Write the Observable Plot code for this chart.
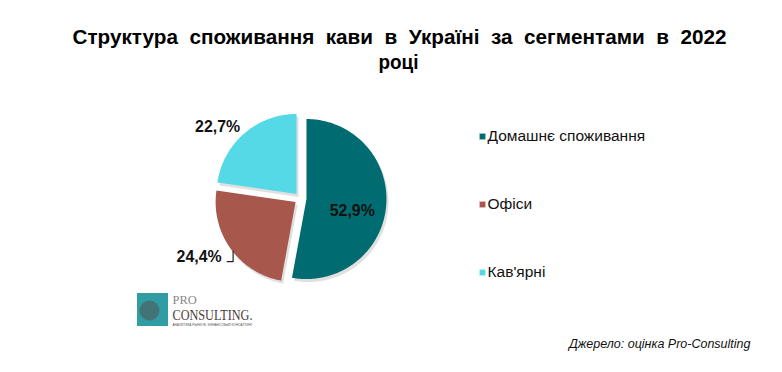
<!DOCTYPE html>
<html>
<head>
<meta charset="utf-8">
<script src="https://cdn.jsdelivr.net/npm/d3@7"></script>
<script src="https://cdn.jsdelivr.net/npm/@observablehq/plot@0.6"></script>
<style>
  html, body { margin: 0; padding: 0; background: #fff; }
</style>
</head>
<body>
<div id="chart"></div>
<script>
// ---- data ----
const categories = ["Домашнє споживання", "Офіси", "Кав'ярні"];
const shares = [52.9, 24.4, 22.7];
const shareLabels = ["52,9%", "24,4%", "22,7%"];
const colors = ["#006b70", "#a8574d", "#56d9e6"];
const titleLines = ["Структура  споживання  кави  в  Україні  за  сегментами  в  2022", "році"];
const sourceText = "Джерело: оцінка Pro-Consulting";

// ---- layout ----
const W = 782, H = 372;
const cx = 300, cy = 198, R = 80, explode = 6;
const sans = "'Liberation Sans', Arial, sans-serif";

// build slice polygons from the data with d3.pie (clockwise from 12 o'clock)
const arcs = d3.pie().sort(null).value(d => d)(shares);
const pts = [];
const centers = [];
arcs.forEach((a, i) => {
  const mid = (a.startAngle + a.endAngle) / 2;
  const vx = cx + explode * Math.sin(mid), vy = cy - explode * Math.cos(mid);
  centers.push({vx, vy, mid});
  pts.push({key: categories[i], x: vx, y: vy});
  const n = Math.max(8, Math.ceil((a.endAngle - a.startAngle) / 0.02));
  for (let k = 0; k <= n; k++) {
    const t = a.startAngle + (a.endAngle - a.startAngle) * k / n;
    pts.push({key: categories[i], x: vx + R * Math.sin(t), y: vy - R * Math.cos(t)});
  }
});

// label positions derived from the slice angles
const c0 = centers[0], c1 = centers[1], c2 = centers[2];
const inLabel = [{text: shareLabels[0], x: c0.vx + 52 * Math.sin(c0.mid) - 6, y: c0.vy - 52 * Math.cos(c0.mid) + 7}];
const topLabel = [{text: shareLabels[2], x: c2.vx + 110 * Math.sin(c2.mid) - 7, y: c2.vy - 110 * Math.cos(c2.mid) + 16}];
const ex = c1.vx + R * Math.sin(c1.mid), ey = c1.vy - R * Math.cos(c1.mid);
const leftLabel = [{text: shareLabels[1], x: ex - 9, y: ey + 8}];
const leader = [
  {x: ex + 2.5, y: ey + 2.5},
  {x: ex + 2.5, y: ey + 13},
  {x: ex - 3.5, y: ey + 13}
];

// legend
const legend = categories.map((c, i) => ({key: c, x: 482, y: 136 + i * 68}));

const labelOpts = {x: "x", y: "y", text: "text", fontWeight: "bold", fontSize: 17, fill: "#111", className: "pct"};

const plot = Plot.plot({
  width: W,
  height: H,
  margin: 0,
  x: {domain: [0, W], range: [0, W], axis: null},
  y: {domain: [0, H], range: [0, H], axis: null},
  color: {domain: categories, range: colors},
  style: {fontFamily: sans, background: "#fff"},
  marks: [
    // title
    Plot.text([titleLines[0]], {x: () => 399, y: () => 37, text: d => d, fontWeight: "bold", fontSize: 21, fill: "#000", className: "title1"}),
    Plot.text([titleLines[1]], {x: () => 398, y: () => 62, text: d => d, fontWeight: "bold", fontSize: 21, fill: "#000", className: "title2"}),
    // shadow
    Plot.line(pts, {x: "x", y: "y", z: "key", fill: "#000", fillOpacity: 0.12, stroke: null, dx: 2, dy: 3, curve: "linear-closed"}),
    // slices
    Plot.line(pts, {x: "x", y: "y", z: "key", fill: "key", stroke: null, curve: "linear-closed"}),
    // leader line
    Plot.line(leader, {x: "x", y: "y", stroke: "#222", strokeWidth: 1.2}),
    // labels
    Plot.text(inLabel, {...labelOpts, textAnchor: "middle"}),
    Plot.text(topLabel, {...labelOpts, textAnchor: "middle"}),
    Plot.text(leftLabel, {...labelOpts, textAnchor: "end"}),
    // legend
    Plot.dot(legend, {x: "x", y: "y", fill: "key", symbol: "square", r: 3.6, stroke: "#fff", strokeWidth: 0.5}),
    Plot.text(legend, {x: d => d.x + 5, y: "y", text: "key", textAnchor: "start", fontSize: 15.5, fill: "#111"}),
    // logo
    Plot.rect([0], {x1: () => 137, x2: () => 168, y1: () => 293, y2: () => 326, fill: "#2f9da3"}),
    Plot.dot([0], {x: () => 149, y: () => 310, r: 10, fill: "#5a4040", fillOpacity: 0.45}),
    Plot.text(["PRO"], {x: () => 172, y: () => 299.5, text: d => d, textAnchor: "start", fontFamily: "'Liberation Serif', serif", fontSize: 12.5, fill: "#8a8a8a"}),
    Plot.text(["CONSULTING."], {x: () => 172, y: () => 315, text: d => d, textAnchor: "start", fontFamily: "'Liberation Serif', serif", fontSize: 14, fill: "#4a3a3a", className: "logo2"}),
    Plot.text(["АНАЛИТИКА РЫНКОВ. ФИНАНСОВЫЙ КОНСАЛТИНГ"], {x: () => 172, y: () => 325, text: d => d, textAnchor: "start", fontSize: 3, fill: "#555", className: "logo3"}),
    // source
    Plot.text([sourceText], {x: () => 750, y: () => 343, text: d => d, textAnchor: "end", fontStyle: "italic", fontSize: 12.5, fill: "#111"})
  ]
});

// fit texts to the widths measured in the reference (condensed look)
function fit(sel, len) {
  plot.querySelectorAll(sel).forEach(t => { t.setAttribute("textLength", len); t.setAttribute("lengthAdjust", "spacingAndGlyphs"); });
}
fit(".title1 text", 654);
fit(".title2 text", 40);
fit(".pct text", 45);
fit(".logo2 text", 80);
fit(".logo3 text", 80);

document.getElementById("chart").appendChild(plot);
</script>
</body>
</html>
